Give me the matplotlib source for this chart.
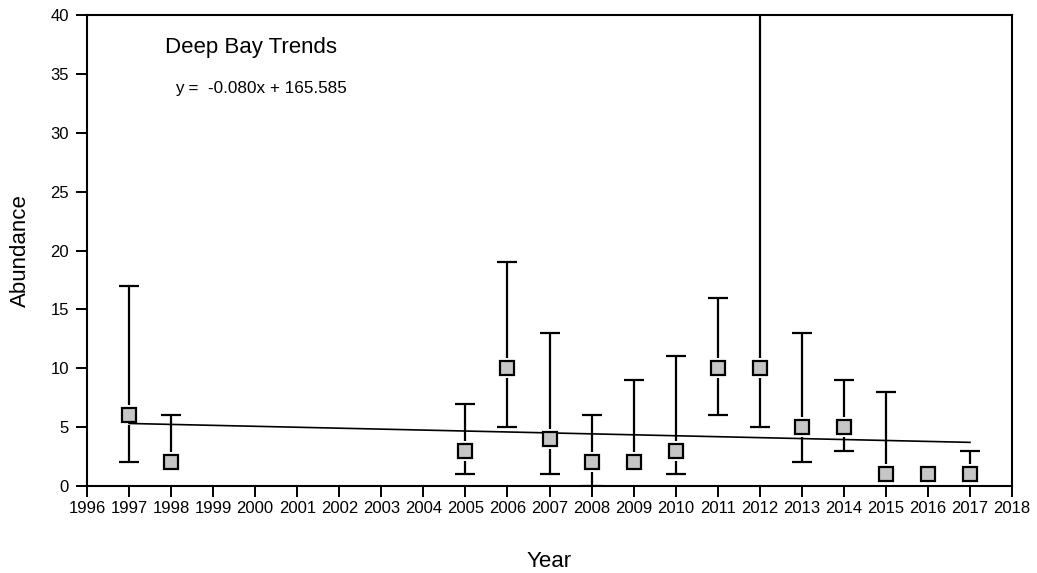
import numpy as np
import matplotlib
matplotlib.use("Agg")
import matplotlib.pyplot as plt

# Deep Bay abundance by year, with upper / lower range
years = [1997, 1998, 2005, 2006, 2007, 2008, 2009, 2010, 2011, 2012, 2013, 2014, 2015, 2016, 2017]
abundance = [6, 2, 3, 10, 4, 2, 2, 3, 10, 10, 5, 5, 1, 1, 1]
upper = [17, 6, 7, 19, 13, 6, 9, 11, 16, 48, 13, 9, 8, 1, 3]
lower = [2, 2, 1, 5, 1, 0, 2, 1, 6, 5, 2, 3, 1, 1, 1]

title_text = "Deep Bay Trends"
eq_text = "y =  -0.080x + 165.585"

plt.rcParams['font.family'] = ['Liberation Sans', 'DejaVu Sans']

x = np.array(years)
y = np.array(abundance)
err_lo = y - np.array(lower)
err_hi = np.array(upper) - y

fig = plt.figure(figsize=(10.37, 5.73), dpi=100)
ax = fig.add_axes([0.0839, 0.1518, 0.892, 0.822])

ax.errorbar(x, y, yerr=[err_lo, err_hi], fmt='none', ecolor='black',
            elinewidth=1.6, capsize=7, capthick=1.6, zorder=1)
# white halo so the bars stop short of the markers
ax.plot(x, y, 's', color='white', markersize=15, markeredgewidth=0, zorder=2)

slope, intercept = np.polyfit(x, y, 1)
xl = np.array([x.min(), x.max()])
ax.plot(xl, slope * xl + intercept, color='black', lw=1.2, zorder=3)

ax.plot(x, y, 's', markerfacecolor='#c6c6c6', markeredgecolor='black',
        markersize=9.5, markeredgewidth=1.6, zorder=4)

ax.set_xlim(1996, 2018)
ax.set_ylim(0, 40)
ax.set_xticks(range(1996, 2019))
ax.set_yticks(range(0, 41, 5))
ax.tick_params(direction='out', length=8, width=1.4, labelsize=12)
ax.tick_params(axis='y', pad=5)
ax.tick_params(axis='x', pad=3)
for s in ax.spines.values():
    s.set_linewidth(1.5)

ax.set_xlabel("Year", fontsize=16, labelpad=25)
ax.set_ylabel("Abundance", fontsize=16, labelpad=14)

ax.text(0.084, 0.932, title_text, transform=ax.transAxes, fontsize=16, va='center')
ax.text(0.095, 0.843, eq_text, transform=ax.transAxes, fontsize=12.3, va='center')

plt.savefig('out.png', dpi=100)
